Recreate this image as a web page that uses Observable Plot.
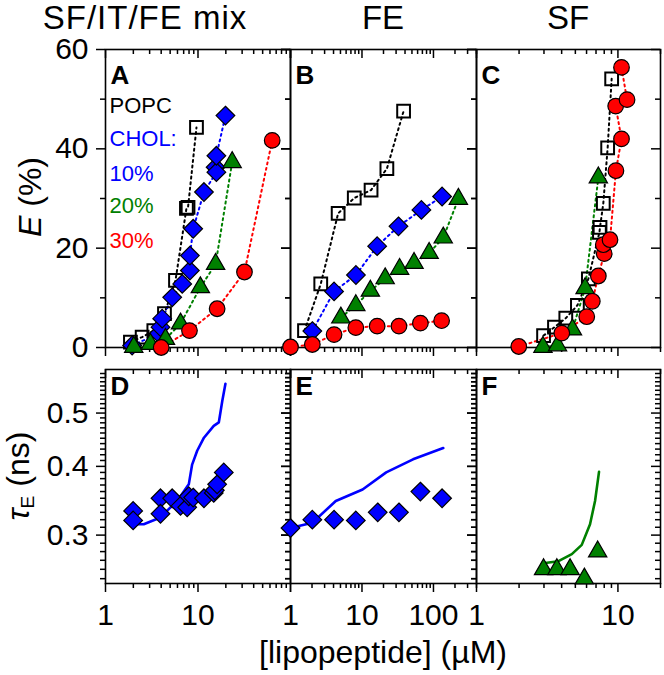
<!DOCTYPE html>
<html><head><meta charset="utf-8">
<script src="https://cdn.jsdelivr.net/npm/d3@7"></script>
<script src="https://cdn.jsdelivr.net/npm/@observablehq/plot@0.6"></script>
<style>
body{margin:0;background:#fff;}
#chart{position:relative;width:664px;height:675px;font-family:"Liberation Sans",Arial,Helvetica,sans-serif;overflow:hidden;background:#fff;}
.box{position:absolute;}
.box svg{max-width:none !important;}
.lbl{position:absolute;white-space:nowrap;color:#000;transform:translate(-50%,-50%);line-height:0.85;}
.rot{transform:translate(-50%,-50%) rotate(-90deg);}
</style></head><body><div id="chart"></div>
<script>
// ---------- DATA ----------
// Panel A: SF/IT/FE mix, E (%)
const aPopcX = [1.86, 2.49, 3.33, 4.34, 5.71, 7.5, 7.8, 9.63];
const aPopcE = [1.1, 2.1, 3.4, 6.8, 13.5, 28.0, 28.2, 44.3];
const aC10X = [1.94, 3.77, 3.93, 4.1, 5.26, 6.75, 8.17, 8.17, 8.87, 11.6, 15.5, 15.8, 15.8, 19.8];
const aC10E = [0.4, 2.8, 4.1, 5.8, 10.1, 12.8, 15.5, 18.5, 23.9, 31.3, 36.3, 35.3, 38.6, 46.7];
const aC20X = [2.02, 3.06, 4.45, 6.47, 10.6, 15.5, 23.4];
const aC20E = [0.1, 0.7, 1.7, 4.8, 12.1, 16.8, 37.3];
const aC30X = [4.0, 8.09, 16.1, 31.8, 63.4];
const aC30E = [0.0, 3.4, 7.8, 15.2, 41.7];
// Panel B: FE
const bPopcX = [1.57, 2.65, 4.64, 7.8, 13.4, 22.3, 38.2];
const bPopcE = [3.4, 12.8, 27.0, 30.1, 31.7, 36.0, 47.6];
const bC10X = [2.02, 4.07, 8.23, 16.3, 32.4, 67.8, 132];
const bC10E = [3.3, 11.3, 14.6, 20.4, 24.4, 27.7, 30.4];
const bC20X = [5.06, 8.2, 13.1, 21.1, 33.6, 53.5, 87, 137, 223];
const bC20E = [6.0, 8.5, 11.4, 13.9, 15.8, 17.0, 19.0, 22.1, 29.9];
const bC30X = [1.0, 2.02, 4.07, 8.2, 16.3, 32.9, 65.6, 130];
const bC30E = [0.1, 0.6, 2.6, 4.0, 4.3, 4.3, 4.9, 5.4];
// Panel C: SF
const cPopcX = [2.98, 3.56, 4.28, 5.17, 6.18, 7.4, 7.47, 7.88, 8.46, 9.03];
const cPopcE = [2.4, 4.1, 5.9, 8.5, 13.8, 23.2, 24.2, 29.0, 40.2, 54.1];
const cC20X = [2.95, 3.74, 4.77, 5.86, 7.27];
const cC20E = [0.1, 0.4, 3.6, 11.9, 34.2];
const cC30X = [1.99, 4.01, 6.02, 6.59, 7.27, 8.0, 7.88, 8.79, 9.68, 10.6, 9.64, 11.6, 10.6];
const cC30E = [0.2, 2.9, 6.2, 9.3, 14.4, 18.9, 20.7, 21.7, 35.6, 42.0, 48.6, 49.9, 56.4];
// Panel D: tau_E (ns), 10% CHOL, SF/IT/FE mix
const dPtsX = [1.99, 1.99, 3.93, 3.93, 5.26, 6.47, 7.64, 7.95, 8.87, 11.6, 14.8, 15.2, 16.1, 19.0];
const dPtsT = [0.332, 0.319, 0.350, 0.328, 0.350, 0.339, 0.337, 0.353, 0.351, 0.350, 0.358, 0.362, 0.371, 0.390];
const dFitX = [2.02, 2.59, 3.93, 5.04, 6.47, 7.95, 8.64, 9.8, 11.6, 14.8, 16.8, 18.3, 19.8];
const dFitT = [0.314, 0.314, 0.323, 0.337, 0.353, 0.371, 0.403, 0.427, 0.451, 0.474, 0.481, 0.526, 0.565];
// Panel E: FE
const ePtsX = [1, 2.02, 4.07, 8.2, 16.6, 32.9, 65.6, 132];
const ePtsT = [0.309, 0.320, 0.320, 0.319, 0.330, 0.330, 0.360, 0.350];
const eFitX = [1, 2.02, 4.3, 10.2, 21.8, 51.8, 137];
const eFitT = [0.309, 0.316, 0.346, 0.363, 0.390, 0.412, 0.432];
// Panel F: SF, 20% CHOL
const fPtsX = [2.98, 3.7, 4.59, 5.79, 7.19];
const fPtsT = [0.260, 0.260, 0.260, 0.250, 0.280];
const fFitX = [3.06, 3.8, 4.72, 5.55, 6.35, 6.89, 7.35];
const fFitT = [0.267, 0.269, 0.277, 0.288, 0.314, 0.346, 0.391];

// Tick labels / titles
const colTitles = ["SF/IT/FE mix", "FE", "SF"];
const panelLetters = [["A", "B", "C"], ["D", "E", "F"]];
const legendItems = ["POPC", "CHOL:", "10%", "20%", "30%"];
const eTickLabels = [0, 20, 40, 60];
const tauTickLabels = [0.3, 0.4, 0.5];
const xTickLabels = [[1, 10], [1, 10, 100], [1, 10]];

// ---------- STYLE / LAYOUT ----------
const FONT = '"Liberation Sans", Arial, Helvetica, sans-serif';
const BLUE = "#0000ff", GREEN = "#008000", RED = "#ff0000";
const colLeft = [105, 290, 476], colWidth = [185, 186, 184];
const rowTop = [49, 369], rowHeight = [298, 214];
const xDomains = [[1, 100], [1, 400], [1, 20]];
const M = {l: 70, r: 30, t: 30, b: 70};
const sty = {
  popc: {symbol: "square", r: 7.2, fill: "none", stroke: "black", strokeWidth: 2, line: "black"},
  c10: {symbol: "diamond2", r: 8.4, fill: BLUE, stroke: "black", strokeWidth: 1.2, line: BLUE},
  c20: {symbol: "triangle", r: 6.8, fill: GREEN, stroke: "black", strokeWidth: 1.2, line: GREEN},
  c30: {symbol: "circle", r: 7.8, fill: RED, stroke: "black", strokeWidth: 1.2, line: RED}
};
const zip = (xs, ys) => xs.map((x, i) => ({x, y: ys[i]}));

function seriesMarks(xs, ys, s) {
  const rows = zip(xs, ys);
  const lineRows = rows.slice().sort((a, b) => a.y - b.y);
  return {
    line: Plot.line(lineRows, {x: "x", y: "y", stroke: s.line, strokeWidth: 2, strokeDasharray: "2,3.6"}),
    dot: Plot.dot(rows, {x: "x", y: "y", symbol: s.symbol, r: s.r, fill: s.fill, stroke: s.stroke, strokeWidth: s.strokeWidth})
  };
}

function buildPanel(col, row, dataMarks, extra) {
  const w = colWidth[col], h = rowHeight[row];
  const [x0, x1] = xDomains[col];
  const majors = [], minors = [];
  for (let p = 1; p <= x1; p *= 10) for (let k = 1; k <= 9; k++) {
    const v = k * p; if (v >= x0 && v <= x1) (k === 1 ? majors : minors).push(v);
  }
  const yMaj = row === 0 ? eTickLabels : tauTickLabels;
  const yMin = row === 0 ? [10, 30, 50] : d3.range(25, 60).filter(v => v % 10 !== 0).map(v => v / 100);
  const rs = {stroke: "black", strokeWidth: 1.5};
  const MAJ = 9, MIN = 5;
  const marks = [
    Plot.frame({stroke: "black", strokeWidth: 1.6}),
    // bottom ticks (outward)
    Plot.ruleX(majors, {x: d => d, insetTop: h, insetBottom: -MAJ, ...rs}),
    Plot.ruleX(minors, {x: d => d, insetTop: h, insetBottom: -MIN, ...rs}),
    // top ticks (inward)
    Plot.ruleX(majors, {x: d => d, insetTop: 0, insetBottom: h - MAJ, ...rs}),
    Plot.ruleX(minors, {x: d => d, insetTop: 0, insetBottom: h - MIN, ...rs}),
    // left ticks (outward)
    Plot.ruleY(yMaj, {y: d => d, insetLeft: -MAJ, insetRight: w, ...rs}),
    Plot.ruleY(yMin, {y: d => d, insetLeft: -MIN, insetRight: w, ...rs}),
    // right ticks (inward)
    Plot.ruleY(yMaj, {y: d => d, insetLeft: w - MAJ, insetRight: 0, ...rs}),
    Plot.ruleY(yMin, {y: d => d, insetLeft: w - MIN, insetRight: 0, ...rs})
  ];
  if (row === 1) marks.push(Plot.axisX({anchor: "bottom", ticks: xTickLabels[col], tickSize: 0, tickPadding: 20, fontSize: 30, label: null, tickFormat: d => String(d)}));
  else marks.push(Plot.axisX({anchor: "bottom", ticks: [], tickSize: 0, label: null}));
  if (col === 0) marks.push(Plot.axisY({anchor: "left", ticks: yMaj, tickSize: 0, tickPadding: 17, fontSize: 30, label: null, tickFormat: d => row === 0 ? String(d) : d.toFixed(1)}));
  else marks.push(Plot.axisY({anchor: "left", ticks: [], tickSize: 0, label: null}));
  marks.push(...dataMarks);
  marks.push(Plot.text([panelLetters[row][col]], {text: d => d, frameAnchor: "top-left", dx: 5, dy: row === 0 ? 16 : 7, lineAnchor: "top", textAnchor: "start", fontSize: 26, fontWeight: "bold", fill: "black"}));
  if (extra) marks.push(...extra);
  const svg = Plot.plot({
    width: w + M.l + M.r, height: h + M.t + M.b,
    marginLeft: M.l, marginRight: M.r, marginTop: M.t, marginBottom: M.b,
    x: {type: "log", domain: xDomains[col]},
    y: row === 0 ? {type: "linear", domain: [0, 60]} : {type: "log", domain: [0.245, 0.6]},
    style: {fontFamily: FONT, overflow: "visible", background: "transparent", color: "black", maxWidth: "none"},
    marks
  });
  const box = document.createElement("div");
  box.className = "box";
  box.style.left = (colLeft[col] - M.l) + "px";
  box.style.top = (rowTop[row] - M.t) + "px";
  box.style.width = (w + M.l + M.r) + "px";
  box.appendChild(svg);
  document.getElementById("chart").appendChild(box);
}

function topPanel(list) {
  const ss = list.map(([xs, ys, s]) => seriesMarks(xs, ys, s));
  return [...ss.map(d => d.line), ...ss.map(d => d.dot)];
}

// legend text in panel A
const legendColors = ["black", BLUE, BLUE, GREEN, RED];
const legendDy = [56, 89, 124, 156, 191];
const legendTextMarks = legendItems.map((t, i) => Plot.text([t], {text: d => d, frameAnchor: "top-left", dx: 4, dy: legendDy[i], lineAnchor: "middle", textAnchor: "start", fontSize: 22, fill: legendColors[i]}));

buildPanel(0, 0, topPanel([[aPopcX, aPopcE, sty.popc], [aC10X, aC10E, sty.c10], [aC20X, aC20E, sty.c20], [aC30X, aC30E, sty.c30]]), legendTextMarks);
buildPanel(1, 0, topPanel([[bPopcX, bPopcE, sty.popc], [bC10X, bC10E, sty.c10], [bC20X, bC20E, sty.c20], [bC30X, bC30E, sty.c30]]));
buildPanel(2, 0, topPanel([[cPopcX, cPopcE, sty.popc], [cC20X, cC20E, sty.c20], [cC30X, cC30E, sty.c30]]));

function tauMarks(px, pt, fx, ft, s) {
  return [
    Plot.line(zip(fx, ft), {x: "x", y: "y", stroke: s.line, strokeWidth: 2.6}),
    Plot.dot(zip(px, pt), {x: "x", y: "y", symbol: s.symbol, r: s.r, fill: s.fill, stroke: s.stroke, strokeWidth: s.strokeWidth})
  ];
}
buildPanel(0, 1, tauMarks(dPtsX, dPtsT, dFitX, dFitT, sty.c10));
buildPanel(1, 1, tauMarks(ePtsX, ePtsT, eFitX, eFitT, sty.c10));
buildPanel(2, 1, tauMarks(fPtsX, fPtsT, fFitX, fFitT, sty.c20));

// ---------- HTML text: titles and axis titles ----------
const chart = document.getElementById("chart");
function addLabel(html, x, y, size, cls, extraStyle) {
  const d = document.createElement("div");
  d.className = "lbl" + (cls ? " " + cls : "");
  d.style.left = x + "px"; d.style.top = y + "px"; d.style.fontSize = size + "px";
  if (extraStyle) Object.assign(d.style, extraStyle);
  d.innerHTML = html;
  chart.appendChild(d);
}
addLabel(colTitles[0], 145, 18, 33, null, {letterSpacing: "1px"});
addLabel(colTitles[1], 383, 18, 33);
addLabel(colTitles[2], 568, 18, 33);
addLabel('<i>E</i> (%)', 31, 197, 32, "rot");
addLabel('<i>τ</i><sub style="font-size:0.6em;vertical-align:-0.25em">E</sub> (ns)', 21, 476, 32, "rot");
addLabel('[lipopeptide] (µM)', 383, 653, 32);
</script></body></html>
